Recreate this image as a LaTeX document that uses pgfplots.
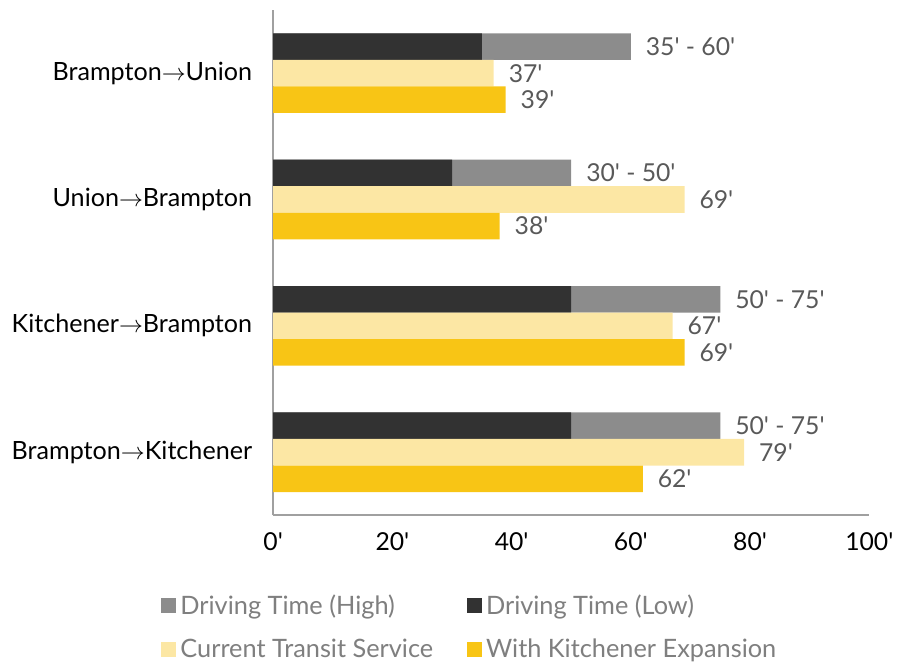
\documentclass[border=0pt]{standalone}
\usepackage{pgfplots}
\pgfplotsset{compat=1.18}
\usepackage{fontspec}
\setmainfont{Lato}
\newcommand{\mn}{\textquotesingle}
\newcommand{\ra}{$\rightarrow$}

\definecolor{drivehigh}{HTML}{8C8C8C}
\definecolor{drivelow}{HTML}{323232}
\definecolor{transitnow}{HTML}{FCE7A4}
\definecolor{expansion}{HTML}{F8C515}
\definecolor{labelgrey}{HTML}{595959}
\definecolor{legendgrey}{HTML}{7F7F7F}
\definecolor{axisgrey}{HTML}{A0A0A0}

\begin{document}
\begin{tikzpicture}
\begin{axis}[
  scale only axis, width=299pt, height=253.5pt,
  xmin=0, xmax=100, ymin=0.5, ymax=4.5,
  xbar, bar width=0.21, bar shift=0pt,
  axis x line=bottom, axis y line=left,
  axis line style={-, axisgrey, line width=1pt},
  major tick length=0pt,
  xtick={0,20,...,100},
  xticklabels={0\mn,20\mn,40\mn,60\mn,80\mn,100\mn},
  xticklabel style={font=\fontsize{12.4}{14}\selectfont, text=black, yshift=-5pt},
  ytick={1,2,3,4},
  yticklabels={Brampton\ra Kitchener, Kitchener\ra Brampton, Union\ra Brampton, Brampton\ra Union},
  yticklabel style={font=\fontsize{12.6}{14}\selectfont, text=black, xshift=-7pt},
  nodes near coords style={font=\fontsize{12.4}{14}\selectfont, text=labelgrey, anchor=west, xshift=4pt},
  legend image code/.code={\fill[#1] (0pt,-3.75pt) rectangle (7.5pt,3.75pt);},
  legend columns=2,
  legend cell align=left,
  legend style={at={(rel axis cs:-0.198,-0.14)}, anchor=north west, draw=none,
    font=\fontsize{12.7}{14}\selectfont, text=legendgrey, row sep=7pt,
    /tikz/every even column/.append style={column sep=15pt},
    /tikz/every odd column/.append style={column sep=0pt}},
]
\coordinate (o) at (rel axis cs:0,0);
% driving time, upper end of the range (drawn first, the low part covers it)
\addplot[fill=drivehigh, draw=none, nodes near coords, point meta=explicit symbolic]
  coordinates {
    (60,4.21) [35\mn{} - 60\mn]
    (50,3.21) [30\mn{} - 50\mn]
    (75,2.21) [50\mn{} - 75\mn]
    (75,1.21) [50\mn{} - 75\mn]
  };
\addlegendentry{Driving Time (High)}
% driving time, lower end of the range
\addplot[fill=drivelow, draw=none]
  coordinates {(35,4.21) (30,3.21) (50,2.21) (50,1.21)};
\addlegendentry{Driving Time (Low)}
% current transit service
\addplot[fill=transitnow, draw=none, nodes near coords, point meta=explicit symbolic]
  coordinates {(37,4) [37\mn] (69,3) [69\mn] (67,2) [67\mn] (79,1) [79\mn]};
\addlegendentry{Current Transit Service}
% with the Kitchener expansion
\addplot[fill=expansion, draw=none, nodes near coords, point meta=explicit symbolic]
  coordinates {(39,3.79) [39\mn] (38,2.79) [38\mn] (69,1.79) [69\mn] (62,0.79) [62\mn]};
\addlegendentry{With Kitchener Expansion}
\end{axis}
\path (o) ++(-137pt,-71.5pt) rectangle ++(450pt,330pt);
\end{tikzpicture}
\end{document}
